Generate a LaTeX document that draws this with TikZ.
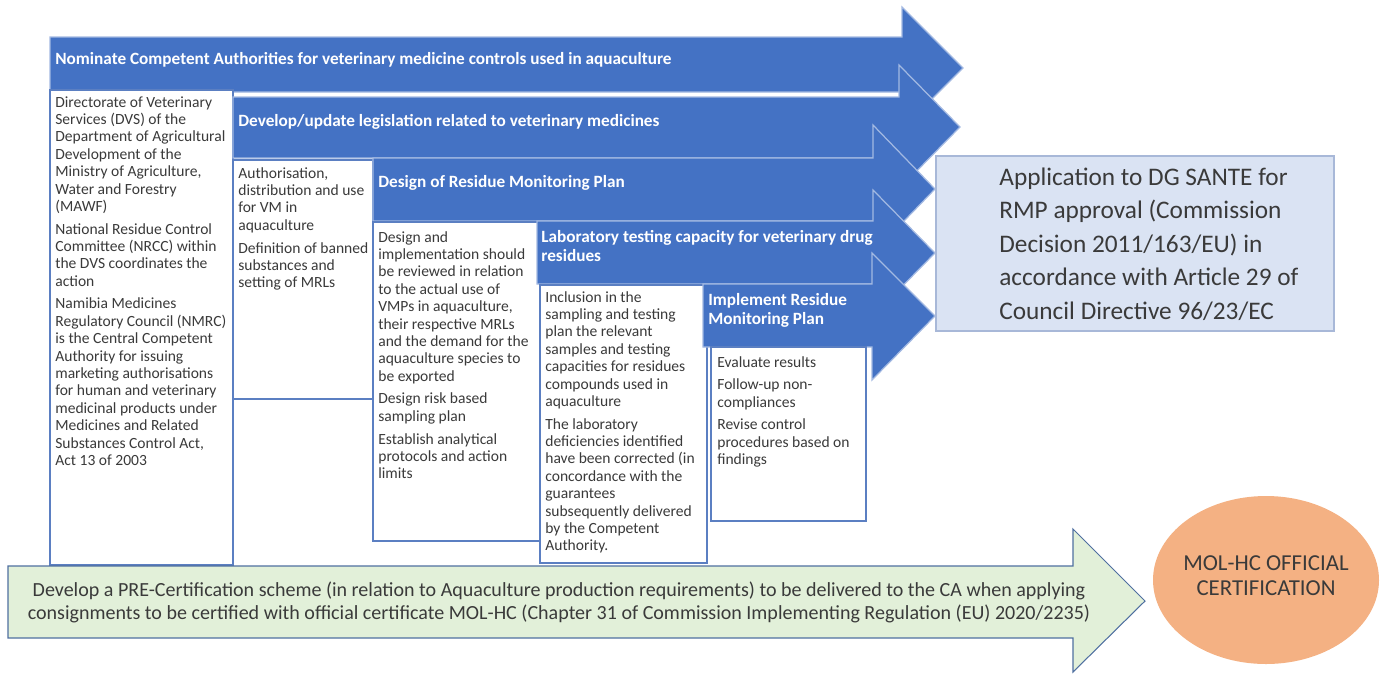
\documentclass[tikz,border=0pt]{standalone}
\usepackage{fontspec}
\setmainfont{Carlito}
\usetikzlibrary{shapes.geometric}

\definecolor{stepblue}{HTML}{4472C4}
\definecolor{stepedge}{HTML}{A3B9E2}
\definecolor{boxedge}{HTML}{5B7FC2}
\definecolor{boxtext}{HTML}{3A3A3A}
\definecolor{apprfill}{HTML}{DAE3F3}
\definecolor{appredge}{HTML}{A8B8D8}
\definecolor{certfill}{HTML}{E2F0D9}
\definecolor{certedge}{HTML}{4F6FA0}
\definecolor{molfill}{HTML}{F4B183}

\tikzset{
  steparrow/.style={fill=stepblue, draw=stepedge, line width=0.7pt},
  steptitle/.style={anchor=west, inner sep=0pt, text=white, align=left,
    font=\fontsize{9.8}{10.8}\selectfont\bfseries},
  actionbox/.style={fill=white, draw=boxedge, line width=0.6pt},
  actiontext/.style={anchor=north west, inner sep=0pt, text=boxtext, align=left,
    font=\fontsize{8.85}{9.9}\selectfont},
}

\begin{document}
\begin{tikzpicture}[x=0.02cm, y=-0.02cm]
    \useasboundingbox (0,0) rectangle (1386,674);

    %Step 1
    \path[steparrow] (50,37) -- (902,37) -- (902,7) -- (963,68) -- (902,129) -- (902,92) -- (50,92) -- cycle;
    \node[steptitle] at (55,60) (nominate) {Nominate Competent Authorities for veterinary medicine controls used in aquaculture};
    \path[actionbox] (50,90) rectangle (233,565);
    \node[actiontext] at (55,96) (dvs) {Directorate of Veterinary\\ Services (DVS) of the\\ Department of Agricultural\\ Development of the\\ Ministry of Agriculture,\\ Water and Forestry\\ (MAWF)\\[3pt]
      National Residue Control\\ Committee (NRCC) within\\ the DVS coordinates the\\ action\\[3pt]
      Namibia Medicines\\ Regulatory Council (NMRC)\\ is the Central Competent\\ Authority for issuing\\ marketing authorisations\\ for human and veterinary\\ medicinal products under\\ Medicines and Related\\ Substances Control Act,\\ Act 13 of 2003};

    %Step 2
    \path[steparrow] (233,97) -- (899,97) -- (899,65) -- (960,127) -- (899,189) -- (899,158) -- (233,158) -- cycle;
    \node[steptitle] at (238,122) (develop) {Develop/update legislation related to veterinary medicines};
    \path[actionbox] (233,160) rectangle (373,399);
    \node[actiontext] at (238,167) (authorise) {Authorisation,\\ distribution and use\\ for VM in\\ aquaculture\\[3pt]
      Definition of banned\\ substances and\\ setting of MRLs};

    %Step 3
    \path[steparrow] (373,158) -- (873,158) -- (873,125) -- (935,189) -- (873,253) -- (873,221) -- (373,221) -- cycle;
    \node[steptitle] at (378,183) (design) {Design of Residue Monitoring Plan};
    \path[actionbox] (373,222) rectangle (540,541);
    \node[actiontext] at (378,231) (review) {Design and\\ implementation should\\ be reviewed in relation\\ to the actual use of\\ VMPs in aquaculture,\\ their respective MRLs\\ and the demand for the\\ aquaculture species to\\ be exported\\[3pt]
      Design risk based\\ sampling plan\\[3pt]
      Establish analytical\\ protocols and action\\ limits};

    %Step 4
    \path[steparrow] (537,221) -- (873,221) -- (873,190) -- (935,253) -- (873,316) -- (873,284) -- (537,284) -- cycle;
    \node[steptitle] at (541,246) (labtest) {Laboratory testing capacity for veterinary drug\\ residues};
    \path[actionbox] (540,285) rectangle (707,563);
    \node[actiontext] at (545,291) (inclusion) {Inclusion in the\\ sampling and testing\\ plan the relevant\\ samples and testing\\ capacities for residues\\ compounds used in\\ aquaculture\\[3pt]
      The laboratory\\ deficiencies identified\\ have been corrected (in\\ concordance with the\\ guarantees\\ subsequently delivered\\ by the Competent\\ Authority.};

    %Step 5
    \path[steparrow] (703,284) -- (872,284) -- (872,253) -- (935,316) -- (872,380) -- (872,347) -- (703,347) -- cycle;
    \node[steptitle] at (708,310) (implement) {Implement Residue\\ Monitoring Plan};
    \path[actionbox] (711,347) rectangle (866,521);
    \node[actiontext] at (717,356) (evaluate) {Evaluate results\\[3pt]
      Follow-up non-\\ compliances\\[3pt]
      Revise control\\ procedures based on\\ findings};

    %Approval
    \path[fill=apprfill, draw=appredge, line width=0.7pt] (936,156) rectangle (1334,331);
    \node[anchor=west, inner sep=0pt, align=left, text=boxtext, font=\fontsize{14.4}{19}\selectfont] at (999,244) (approval) {Application to DG SANTE for\\ RMP approval (Commission\\ Decision 2011/163/EU) in\\ accordance with Article 29 of\\ Council Directive 96/23/EC};

    %Pre-certification
    \path[fill=certfill, draw=certedge, line width=0.6pt] (8,566) -- (1073,566) -- (1073,529) -- (1145,601) -- (1073,672) -- (1073,638) -- (8,638) -- cycle;
    \node[inner sep=0pt, align=center, text=boxtext, font=\fontsize{11.4}{13}\selectfont] at (559,602) (precert) {Develop a PRE-Certification scheme (in relation to Aquaculture production requirements) to be delivered to the CA when applying\\ consignments to be certified with official certificate MOL-HC (Chapter 31 of Commission Implementing Regulation (EU) 2020/2235)};

    %Certification
    \fill[molfill] (1266,580) ellipse [x radius=113, y radius=84];
    \node[inner sep=0pt, align=center, text=boxtext, font=\fontsize{13}{14.2}\selectfont] at (1266,576) (molhc) {MOL-HC OFFICIAL\\ CERTIFICATION};

\end{tikzpicture}
\end{document}
